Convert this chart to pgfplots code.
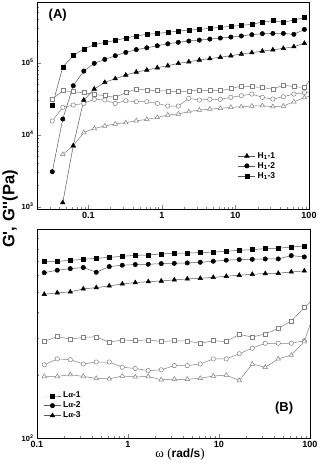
\documentclass[border=0pt]{standalone}
\usepackage{pgfplots}
\pgfplotsset{compat=1.18}
\usepackage{fontspec}
\setmainfont{Liberation Sans}
\newfontfamily\serif{Liberation Serif}
\newfontfamily\nolig{Liberation Sans}[Ligatures=TeXOff]
\definecolor{lincol}{gray}{0.35}
\definecolor{opncol}{gray}{0.5}
\tikzset{
  filsty/.style={color=lincol, line width=0.5pt, mark options={solid, fill=black, draw=black}},
  opnsty/.style={color=opncol, line width=0.5pt, mark options={solid, fill=white, draw=opncol, line width=0.5pt}},
  sq/.style={mark=square*, mark size=2.0pt},
  ci/.style={mark=*, mark size=2.2pt},
  tr/.style={mark=triangle*, mark size=2.6pt},
}
\begin{document}
\begin{tikzpicture}
\useasboundingbox (0pt,0pt) rectangle (320pt,471pt);
% ---------------- Panel A ----------------
\begin{axis}[at={(37pt,262pt)}, anchor=south west, width=272pt, height=206.5pt,
  scale only axis, xmode=log, ymode=log,
  axis line style={line width=0.9pt, black},
  tick align=inside, xtick pos=left, ytick pos=left,
  major tick length=4pt, minor tick length=2pt,
  x tick label style={font=\bfseries\fontsize{9}{10}\selectfont},
  y tick label style={font=\bfseries\fontsize{7.5}{8}\selectfont},
  legend style={draw=none, fill=none, font=\bfseries\fontsize{8.5}{10}\selectfont, row sep=-1.5pt, inner sep=1pt, at={(0.735,0.29)}, anchor=north west},
  legend cell align=left,
  xmin=0.02, xmax=100, ymin=929, ymax=6.86e5,
  xtick={0.1,1,10,100}, xticklabels={0.1,1,10,100},
  minor xtick={0.02,0.03,0.04,0.05,0.06,0.07,0.08,0.09,0.2,0.3,0.4,0.5,0.6,0.7,0.8,0.9,2,3,4,5,6,7,8,9,20,30,40,50,60,70,80,90},
  ytick={1000,10000,100000}, yticklabels={10\textsuperscript{3},10\textsuperscript{4},10\textsuperscript{5}},
  minor ytick={2000,3000,4000,5000,6000,7000,8000,9000,20000,30000,40000,50000,60000,70000,80000,90000,200000,300000,400000,500000,600000},
]
\addplot[opnsty, sq, forget plot] coordinates {
(0.03226,31200)(0.04481,40800)(0.06227,39500)(0.08654,38300)(0.1202,36300)(0.1670,34800)
(0.2321,33000)(0.3226,38300)(0.4481,43100)(0.6227,41700)(0.8654,40800)(1.202,40400)
(1.670,39500)(2.321,40400)(3.226,41700)(4.481,40800)(6.227,40800)(8.654,43500)
(12.02,47400)(16.70,46400)(23.21,45400)(32.26,42600)(44.81,49000)(62.27,46400)(86.54,45400)(120.2,71100)};
\addplot[opnsty, ci, forget plot] coordinates {
(0.03226,15500)(0.04481,24000)(0.06227,25800)(0.08654,27200)(0.1202,31000)(0.1670,30300)
(0.2321,27200)(0.3226,29600)(0.4481,28700)(0.6227,28700)(0.8654,27200)(1.202,25000)
(1.670,25000)(2.321,32000)(3.226,30300)(4.481,31000)(6.227,31000)(8.654,33000)
(12.02,34800)(16.70,36700)(23.21,33000)(32.26,31300)(44.81,33700)(62.27,36700)(86.54,38300)(120.2,40000)};
\addplot[opnsty, tr, forget plot] coordinates {
(0.04481,5330)(0.06227,7030)(0.08654,10700)(0.1202,12200)(0.1670,13200)
(0.2321,14100)(0.3226,14700)(0.4481,15600)(0.6227,16300)(0.8654,17400)(1.202,18800)
(1.670,19400)(2.321,20900)(3.226,22000)(4.481,22700)(6.227,23200)(8.654,24000)
(12.02,24500)(16.70,25000)(23.21,25300)(32.26,24500)(44.81,25000)(62.27,28700)(86.54,32700)(120.2,36000)};
\addplot[filsty, tr] coordinates {
(0.04481,1140)(0.06227,7030)(0.08654,30300)(0.1202,43100)(0.1670,53300)
(0.2321,60000)(0.3226,67400)(0.4481,74200)(0.6227,79100)(0.8654,85100)(1.202,90800)
(1.670,97900)(2.321,103000)(3.226,109000)(4.481,114000)(6.227,119000)(8.654,125000)
(12.02,132000)(16.70,138000)(23.21,145000)(32.26,151000)(44.81,158000)(62.27,167000)(86.54,186000)};
\addlegendentry{H\textsubscript{1}-1}
\addplot[filsty, ci] coordinates {
(0.03226,3060)(0.04481,16500)(0.06227,47900)(0.08654,76500)(0.1202,98000)(0.1670,111000)
(0.2321,125000)(0.3226,139000)(0.4481,152000)(0.6227,161000)(0.8654,172000)(1.202,183000)
(1.670,192000)(2.321,200000)(3.226,206000)(4.481,213000)(6.227,220000)(8.654,227000)
(12.02,235000)(16.70,245000)(23.21,253000)(32.26,255000)(44.81,255000)(62.27,248000)(86.54,290000)};
\addlegendentry{H\textsubscript{1}-2}
\addplot[filsty, sq] coordinates {
(0.03226,25300)(0.04481,87000)(0.06227,126000)(0.08654,155000)(0.1202,178000)(0.1670,191000)
(0.2321,204000)(0.3226,220000)(0.4481,235000)(0.6227,248000)(0.8654,255000)(1.202,264000)
(1.670,275000)(2.321,284000)(3.226,290000)(4.481,300000)(6.227,310000)(8.654,320000)
(12.02,330000)(16.70,341000)(23.21,367000)(32.26,383000)(44.81,363000)(62.27,392000)(86.54,422000)};
\addlegendentry{H\textsubscript{1}-3}
\node[font=\bfseries\fontsize{13}{14}\selectfont, anchor=north west] at (rel axis cs:0.03,0.985) {(A)};
\end{axis}
% ---------------- Panel B ----------------
\begin{axis}[at={(37pt,33pt)}, anchor=south west, width=273pt, height=209pt,
  scale only axis, xmode=log, ymode=log,
  axis line style={line width=0.9pt, black},
  tick align=inside, xtick pos=left, ytick pos=left,
  major tick length=4pt, minor tick length=2pt,
  x tick label style={font=\bfseries\fontsize{9}{10}\selectfont},
  y tick label style={font=\bfseries\fontsize{7.5}{8}\selectfont},
  legend style={draw=none, fill=none, font=\bfseries\fontsize{8.5}{10}\selectfont, row sep=-1.5pt, inner sep=1pt, at={(0.02,0.235)}, anchor=north west},
  legend cell align=left,
  xmin=0.1, xmax=100, ymin=100, ymax=1000,
  xtick={0.1,1,10,100}, xticklabels={0.1,1,10,100},
  minor xtick={0.2,0.3,0.4,0.5,0.6,0.7,0.8,0.9,2,3,4,5,6,7,8,9,20,30,40,50,60,70,80,90},
  ytick={100}, yticklabels={10\textsuperscript{2}},
  minor ytick={200,300,400,500,600,700,800,900},
  xlabel={{\serif\fontsize{13}{14}\selectfont ω (}{\bfseries\fontsize{12}{14}\selectfont rad/s}{\serif\fontsize{13}{14}\selectfont )}},
  xlabel style={at={(axis description cs:0.524,-0.08)}, anchor=center},
]
\addplot[opnsty, sq, forget plot] coordinates {
(0.1202,289.5)(0.1670,306)(0.2321,297)(0.3226,303)(0.4481,305)(0.6227,287)(0.8654,295)
(1.202,292)(1.670,295)(2.321,289.5)(3.226,292)(4.481,291)(6.227,284)(8.654,292)
(12.02,289.5)(16.70,313)(23.21,304)(32.26,315)(44.81,334)(62.27,363)(86.54,421)(120.2,480)};
\addplot[opnsty, ci, forget plot] coordinates {
(0.1202,224)(0.1670,239)(0.2321,237)(0.3226,226)(0.4481,231)(0.6227,231)(0.8654,218)
(1.202,215)(1.670,210)(2.321,212)(3.226,222)(4.481,222)(6.227,226)(8.654,239)
(12.02,239)(16.70,253)(23.21,269)(32.26,284)(44.81,284)(62.27,284)(86.54,292)};
\addplot[opnsty, tr, forget plot] coordinates {
(0.1202,197)(0.1670,197)(0.2321,201)(0.3226,197)(0.4481,193)(0.6227,192)(0.8654,198)
(1.202,196)(1.670,197)(2.321,190)(3.226,191)(4.481,191)(6.227,193)(8.654,198)
(12.02,200)(16.70,188.5)(23.21,226)(32.26,218)(44.81,239)(62.27,249)(86.54,289.5)(120.2,440)};
\addplot[filsty, sq] coordinates {
(0.1202,698)(0.1670,700)(0.2321,708)(0.3226,716)(0.4481,724)(0.6227,732)(0.8654,740)
(1.202,748)(1.670,751)(2.321,760)(3.226,765)(4.481,768)(6.227,771)(8.654,776)
(12.02,782)(16.70,791)(23.21,797)(32.26,805)(44.81,809)(62.27,820)(86.54,830)};
\addlegendentry{L{\serif α}-1}
\addplot[filsty, ci] coordinates {
(0.1202,618)(0.1670,635)(0.2321,646)(0.3226,654)(0.4481,621)(0.6227,661)(0.8654,671)
(1.202,676)(1.670,678)(2.321,683)(3.226,685)(4.481,688)(6.227,693)(8.654,701)
(12.02,709)(16.70,714)(23.21,716)(32.26,719)(44.81,719)(62.27,746)(86.54,735)};
\addlegendentry{L{\serif α}-2}
\addplot[filsty, tr] coordinates {
(0.1202,487)(0.1670,495)(0.2321,500)(0.3226,517)(0.4481,524)(0.6227,534)(0.8654,546)
(1.202,554)(1.670,560)(2.321,564)(3.226,571)(4.481,577)(6.227,581)(8.654,587)
(12.02,594)(16.70,601)(23.21,607)(32.26,612)(44.81,614)(62.27,623)(86.54,630)};
\addlegendentry{L{\serif α}-3}
\node[font=\bfseries\fontsize{13}{14}\selectfont] at (rel axis cs:0.905,0.144) {(B)};
\end{axis}
\node[rotate=90, font=\nolig\bfseries\fontsize{16.5}{18}\selectfont] at (10pt,262pt) {G', G''(Pa)};
\end{tikzpicture}
\end{document}
